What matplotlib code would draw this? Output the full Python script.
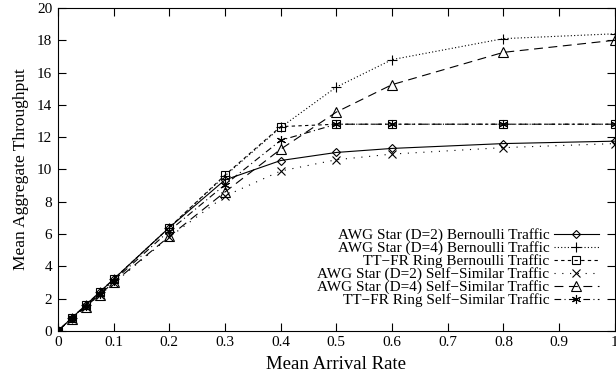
import matplotlib
matplotlib.use("Agg")
import matplotlib.pyplot as plt

plt.rcParams['font.family'] = ['Liberation Serif', 'DejaVu Serif']

x = [0, 0.025, 0.05, 0.075, 0.1, 0.2, 0.3, 0.4, 0.5, 0.6, 0.8, 1.0]
awg2_bern = [0, 0.8, 1.6, 2.4, 3.2, 6.4, 9.35, 10.55, 11.05, 11.3, 11.6, 11.75]
awg4_bern = [0, 0.8, 1.6, 2.4, 3.2, 6.4, 9.6, 12.6, 15.1, 16.8, 18.1, 18.4]
ttfr_bern = [0, 0.8, 1.6, 2.4, 3.2, 6.4, 9.65, 12.65, 12.8, 12.8, 12.8, 12.8]
awg2_ss = [0, 0.75, 1.5, 2.2, 2.95, 5.8, 8.35, 9.9, 10.6, 10.95, 11.35, 11.6]
awg4_ss = [0, 0.75, 1.5, 2.25, 3.0, 5.85, 8.6, 11.25, 13.55, 15.25, 17.25, 18.0]
ttfr_ss = [0, 0.78, 1.55, 2.3, 3.1, 6.2, 9.05, 11.8, 12.8, 12.8, 12.8, 12.8]

labels = ["AWG Star (D=2) Bernoulli Traffic",
          "AWG Star (D=4) Bernoulli Traffic",
          "TT\u2212FR Ring Bernoulli Traffic",
          "AWG Star (D=2) Self\u2212Similar Traffic",
          "AWG Star (D=4) Self\u2212Similar Traffic",
          "TT\u2212FR Ring Self\u2212Similar Traffic"]

fig = plt.figure(figsize=(6.16, 3.79), dpi=100)
ax = fig.add_axes([0.094, 0.127, 0.904, 0.852])

lw = 0.8
def style(ms):
    return dict(color='black', lw=lw, markerfacecolor='none', markeredgecolor='black',
                markersize=ms, markeredgewidth=0.8)

ax.plot(x, awg2_bern, linestyle='-', marker='D', **style(4.5), label=labels[0])
ax.plot(x, awg4_bern, linestyle=(0, (1, 2)), marker='+', **style(6.5), label=labels[1])
ax.plot(x, ttfr_bern, linestyle=(0, (3, 3)), marker='s', **style(5.5), label=labels[2])
ax.plot(x, awg2_ss, linestyle=(0, (1, 6)), marker='x', **style(5.5), label=labels[3])
ax.plot(x, awg4_ss, linestyle=(0, (8, 5)), marker='^', **style(6.5), label=labels[4])
ax.plot(x, ttfr_ss, linestyle=(0, (6, 3, 1, 3)), marker=(6, 2, 0), **style(6.5), label=labels[5])

ax.set_xlim(0, 1)
ax.set_ylim(0, 20)
ax.set_xticks([0, 0.1, 0.2, 0.3, 0.4, 0.5, 0.6, 0.7, 0.8, 0.9, 1])
ax.set_xticklabels(['0', '0.1', '0.2', '0.3', '0.4', '0.5', '0.6', '0.7', '0.8', '0.9', '1'])
ax.set_yticks(range(0, 21, 2))
ax.tick_params(direction='in', top=True, right=True, length=6, width=0.8, labelsize=11, pad=4)
for s in ax.spines.values():
    s.set_linewidth(0.8)
ax.set_xlabel('Mean Arrival Rate', fontsize=13.5, labelpad=5)
ax.set_ylabel('Mean Aggregate Throughput', fontsize=12.5, labelpad=6)

leg = ax.legend(loc='lower right', bbox_to_anchor=(0.99, 0.04), frameon=False, markerfirst=False,
                fontsize=11, handlelength=2.9, handletextpad=0.3, labelspacing=-0.06, borderpad=0.2)

fig.savefig('out.png', dpi=100)
